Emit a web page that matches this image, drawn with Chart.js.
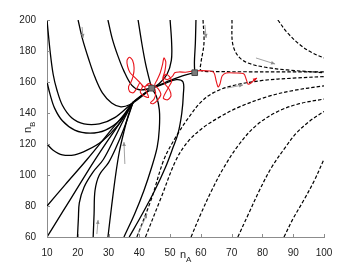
<!DOCTYPE html>
<html>
<head>
<meta charset="utf-8">
<script src="https://cdn.jsdelivr.net/npm/chart.js@4.4.1/dist/chart.umd.min.js"></script>
<style>
  html, body { margin: 0; padding: 0; background: #fff; }
  #wrap { width: 358px; height: 268px; }
</style>
</head>
<body>
<div id="wrap"><canvas id="phase"></canvas></div>
<script>
// tick labels
const xTicks = [10, 20, 30, 40, 50, 60, 70, 80, 90, 100];
const yTicks = [60, 80, 100, 120, 140, 160, 180, 200];

// fixed points (node, saddle)
const fixedPoints = [[44, 156], [58, 166]];

// solid trajectories (flow into the node)
const solidTopLeft = [[10,200],[11,180],[12,165],[13.2,155],[15,145],[18,137],[22,133],[27,133],[32,137],[38,147],[44,156]];
const solidLeft160 = [[10,160],[11,152],[12.5,143],[15,135],[19,129],[24,127],[29,129],[34,136],[38,147]];
const solidLeft120 = [[10,120],[12,116],[15,113],[19,113],[23,116],[28,122],[33,132],[38,147]];
const solidTop20 = [[20.1,200],[21.5,188],[23.5,175],[25.6,163],[28,153],[31,146.5],[34,144],[37,145.5],[40,149.5],[44,156]];
const solidTop30 = [[29.8,200],[31.2,188],[33,177],[35,167],[37.5,158],[40,155],[44,156]];
const solidTop40 = [[39.6,200],[40.8,185],[42,172],[43.2,162],[44,156]];
const solidTop50 = [[50,200],[50.5,185],[50.4,174],[49,165],[46.5,159],[44,156]];
const solidSeparatrix = [[58.4,200],[58.2,185],[57.9,173],[58,166]];
const solidLink = [[58,166],[54,164],[50,161],[47,158.5],[44,156]];
const fan80 = [[10,80],[16,94],[23,110],[30,127],[35,139],[38,147],[44,156]];
const fan60 = [[10,60],[15,76],[20,92],[25,108],[30,123],[34.5,136],[38,147]];
const fanB20 = [[19.9,60],[20.2,72],[20.5,82],[22,92],[25,102],[28.3,110],[32,124],[35,136],[38,147]];
const fanB25 = [[25,60],[25.3,75],[25.6,90],[27,100],[30,108],[32.5,118],[35,130],[38,147]];
const fanB30 = [[29.8,60],[31,80],[32.3,100],[33.5,115],[35,128],[36.5,139],[38,147]];
const solidB35 = [[35,60],[38.5,75],[41.5,90],[44,105],[45.8,118],[46.5,130],[46.5,142],[45.5,151],[44,156]];
const solidB37 = [[36.7,60],[41,75],[45,90],[48.5,105],[51,118],[52.6,127],[53.8,140],[54.3,152],[54.2,160],[52,161.5],[48,158.8],[44,156]];

// dashed trajectories (escape to the right)
const dashTop61 = [[60.7,200],[61,185],[60,172],[60,167.5],[64,166.8],[75,166.6],[100,166.5]];
const dashTop70 = [[70.1,200],[70.3,185],[72,177],[75,172.5],[81,169.5],[88,167.8],[100,166]];
const dashTop85 = [[85,200],[88,192],[92.2,184],[96,179],[100,175.5]];
const dashB39 = [[39.2,60],[44,85],[48,110],[52,125],[56,137],[60,147],[64,153],[70,157.5],[80,161],[90,162.5],[100,163.5]];
const dashB42 = [[42,60],[47,85],[52,110],[56,122],[61,131],[66.2,137.5],[72,143.5],[81.5,150.5],[90,154.5],[100,157.5]];
const dashB57 = [[56.8,60],[60,75],[63.5,90],[67.5,105],[72.5,120],[78,132],[85,141],[92,146],[100,149]];
const dashB72 = [[72,60],[75.5,75],[79,90],[83,105],[87.5,118],[91,127],[95.5,135],[100,141]];
const dashB87 = [[87,60],[90,72],[93.5,84],[97,97],[100,110.3]];

// noisy sample path (red)
const noisyPath = [[44,156],[43,158],[41.5,157],[40,160],[38.5,163],[37,166],[36.2,170],[36,174],[36.8,176],[37.8,174],[38.3,169],[38,164],[37.3,160],[36.5,157],[36.8,154],[38,153],[39.2,156],[40.2,159.5],[41,157],[40.3,153.5],[41.5,151],[43,150],[42.5,153],[41.8,156.5],[43,159],[44.5,157.5],[45.3,153],[44.8,149],[43.6,146.5],[44.5,146],[46,148.5],[47,152],[46.2,155.5],[45,158],[45.8,161.5],[46.8,166],[47.5,171],[48,175.5],[48.6,173],[48.3,167],[47.6,162],[48.4,158.5],[49.8,155],[50.3,151],[49.2,148.5],[47.8,149.5],[48.5,153],[49.6,157],[50.5,160.5],[49.8,163.5],[48.6,165],[47.9,163],[49,161.5],[50.8,163.8],[51.5,166],[53,166.5],[55,166.3],[58,167.2],[63,167.1],[64.3,165.8],[64.9,161.3],[65.6,156.8],[66.2,158.7],[66.9,163.9],[68.2,165.8],[71.1,165.8],[74,165.2],[74.7,161.9],[75.3,158.7],[76.3,159.4],[77.3,161.3],[78.2,162.6]];

// direction arrows (start, end)
const flowArrows = [
  [[21.4,195.5],[21.7,188.4]],
  [[61.3,196.8],[61.7,188.4]],
  [[77.9,175.5],[84.1,171.6]],
  [[68.5,156.1],[73.7,158.1]],
  [[35.3,107.1],[35,121.3]],
  [[26.2,61.9],[26.6,71]],
  [[39.6,61.9],[42.5,74.8]]
];

const pts = a => a.map(p => ({x: p[0], y: p[1]}));

const solidCurves = [solidTopLeft, solidLeft160, solidLeft120, solidTop20, solidTop30, solidTop40, solidTop50,
  solidSeparatrix, solidLink, fan80, fan60, fanB20, fanB25, fanB30, solidB35, solidB37];
const dashedCurves = [dashTop61, dashTop70, dashTop85, dashB39, dashB42, dashB57, dashB72, dashB87];

const datasets = [];
datasets.push({
  data: pts(fixedPoints), showLine: false, pointStyle: 'rect', pointRadius: 4,
  backgroundColor: '#7a7a7a', borderColor: '#4a4a4a', borderWidth: 1
});
datasets.push({
  data: pts(noisyPath), showLine: true, borderColor: '#e8141b', borderWidth: 1.1,
  tension: 0.25, pointRadius: 0, arrow: true, arrowColor: '#e8141b'
});
flowArrows.forEach(a => datasets.push({
  data: pts(a), showLine: true, borderColor: '#8a8a8a', borderWidth: 0.8,
  pointRadius: 0, arrow: true, arrowColor: '#8a8a8a'
}));
solidCurves.forEach(c => datasets.push({
  data: pts(c), showLine: true, borderColor: '#000', borderWidth: 1.3,
  tension: 0.35, pointRadius: 0
}));
dashedCurves.forEach(c => datasets.push({
  data: pts(c), showLine: true, borderColor: '#000', borderWidth: 1.2,
  borderDash: [3.5, 2], tension: 0.35, pointRadius: 0
}));

const arrowHeads = {
  id: 'arrowHeads',
  afterDatasetsDraw(chart) {
    const c = chart.ctx, xs = chart.scales.x, ys = chart.scales.y;
    chart.data.datasets.forEach(ds => {
      if (!ds.arrow) return;
      const n = ds.data.length;
      const p1 = ds.data[n - 2], p2 = ds.data[n - 1];
      const x1 = xs.getPixelForValue(p1.x), y1 = ys.getPixelForValue(p1.y);
      const x2 = xs.getPixelForValue(p2.x), y2 = ys.getPixelForValue(p2.y);
      const ang = Math.atan2(y2 - y1, x2 - x1);
      c.save();
      c.translate(x2, y2);
      c.rotate(ang);
      c.fillStyle = ds.arrowColor;
      c.beginPath();
      c.moveTo(0, 0);
      c.lineTo(-4, -1.8);
      c.lineTo(-4, 1.8);
      c.closePath();
      c.fill();
      c.restore();
    });
  }
};

// inward tick marks and subscripted axis titles
const axisDecor = {
  id: 'axisDecor',
  afterDraw(chart) {
    const c = chart.ctx, xs = chart.scales.x, ys = chart.scales.y, a = chart.chartArea;
    c.save();
    c.strokeStyle = '#8c8c8c';
    c.lineWidth = 1;
    xTicks.forEach(v => {
      const px = Math.round(xs.getPixelForValue(v)) + 0.5;
      c.beginPath(); c.moveTo(px, a.bottom); c.lineTo(px, a.bottom - 3); c.stroke();
    });
    yTicks.forEach(v => {
      const py = Math.round(ys.getPixelForValue(v)) + 0.5;
      c.beginPath(); c.moveTo(a.left, py); c.lineTo(a.left + 3, py); c.stroke();
    });
    c.fillStyle = '#222';
    c.textBaseline = 'alphabetic';
    c.font = '11px "Liberation Sans", Arial, sans-serif';
    c.fillText('n', 180, 258);
    c.font = '8px "Liberation Sans", Arial, sans-serif';
    c.fillText('A', 186, 262);
    c.translate(31, 133);
    c.rotate(-Math.PI / 2);
    c.font = '11px "Liberation Sans", Arial, sans-serif';
    c.fillText('n', 0, 0);
    c.font = '8px "Liberation Sans", Arial, sans-serif';
    c.fillText('B', 6, 4);
    c.restore();
  }
};

new Chart(document.getElementById('phase'), {
  type: 'scatter',
  data: { datasets: datasets },
  plugins: [arrowHeads, axisDecor],
  options: {
    responsive: true,
    maintainAspectRatio: false,
    animation: false,
    events: [],
    layout: { padding: { top: 20, right: 34, left: 0, bottom: 0 } },
    plugins: { legend: { display: false }, tooltip: { enabled: false } },
    scales: {
      x: {
        type: 'linear', min: 10, max: 100,
        afterFit: s => { s.height = 31; },
        afterBuildTicks: s => { s.ticks = xTicks.map(v => ({value: v})); },
        grid: { display: false },
        border: { display: true, color: '#8c8c8c', width: 1 },
        ticks: { color: '#222', padding: 2, maxRotation: 0, font: { family: '"Liberation Sans", Arial, sans-serif', size: 10 } }
      },
      y: {
        type: 'linear', min: 60, max: 200,
        afterFit: s => { s.width = 47; },
        afterBuildTicks: s => { s.ticks = yTicks.map(v => ({value: v})); },
        grid: { display: false },
        border: { display: true, color: '#8c8c8c', width: 1 },
        ticks: { color: '#222', padding: 3, font: { family: '"Liberation Sans", Arial, sans-serif', size: 10 } }
      }
    }
  }
});
</script>
</body>
</html>
